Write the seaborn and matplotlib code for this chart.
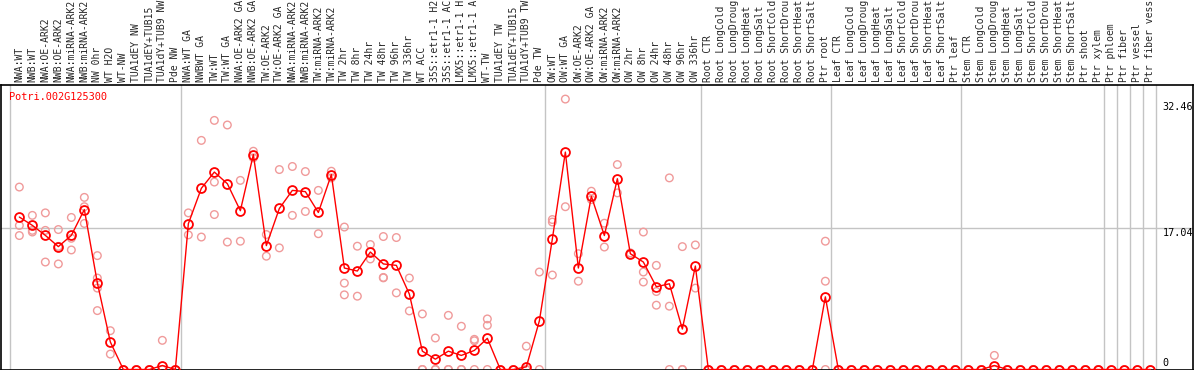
import numpy as np
import pandas as pd
import matplotlib
matplotlib.use("Agg")
import matplotlib.pyplot as plt
import seaborn as sns

gene_name = "Potri.002G125300"

# category labels as visible in the chart header
categories = [
    "NWA:WT", "NWB:WT", "NWA:OE-ARK2", "NWB:OE-ARK2", "NWA:miRNA-ARK2", "NWB:miRNA-ARK2",
    "NW 0hr", "WT H2O", "WT-NW", "TUA1dEY NW", "TUA1dEY+TUB15", "TUA1dY+TUB9 NW", "Pde NW",
    "NWA:WT GA", "NWBWT GA", "TW:WT", "TW:WT GA", "NWA:OE-ARK2 GA", "NWB:OE-ARK2 GA",
    "TW:OE-ARK2", "TW:OE-ARK2 GA", "NWA:miRNA-ARK2", "NWB:miRNA-ARK2", "TW:miRNA-ARK2",
    "TW:miRNA-ARK2", "TW 2hr", "TW 8hr", "TW 24hr", "TW 48hr", "TW 96hr", "TW 336hr",
    "WT ACC", "35S::etr1-1 H2", "35S::etr1-1 AC", "LMX5::etr1-1 H", "LMX5::etr1-1 A",
    "WT-TW", "TUA1dEY TW", "TUA1dEY+TUB15", "TUA1dY+TUB9 TW", "Pde TW",
    "OW:WT", "OW:WT GA", "OW:OE-ARK2", "OW:OE-ARK2 GA", "OW:miRNA-ARK2", "OW:miRNA-ARK2",
    "OW 2hr", "OW 8hr", "OW 24hr", "OW 48hr", "OW 96hr", "OW 336hr",
    "Root CTR", "Root LongCold", "Root LongDroug", "Root LongHeat", "Root LongSalt",
    "Root ShortCold", "Root ShortDrou", "Root ShortHeat", "Root ShortSalt", "Ptr root",
    "Leaf CTR", "Leaf LongCold", "Leaf LongDroug", "Leaf LongHeat", "Leaf LongSalt",
    "Leaf ShortCold", "Leaf ShortDrou", "Leaf ShortHeat", "Leaf ShortSalt", "Ptr leaf",
    "Stem CTR", "Stem LongCold", "Stem LongDroug", "Stem LongHeat", "Stem LongSalt",
    "Stem ShortCold", "Stem ShortDrou", "Stem ShortHeat", "Stem ShortSalt", "Ptr shoot",
    "Ptr xylem", "Ptr phloem", "Ptr fiber", "Ptr vessel", "Ptr fiber vess",
]

mean_values = [
    18.3, 17.3, 16.1, 14.75, 16.1, 19.2, 10.4, 3.3, 0, 0, 0, 0.48, 0,
    17.5, 21.75, 23.7, 22.3, 19.06, 25.8, 14.87, 19.33, 21.5, 21.35, 18.85, 23.4,
    12.18, 11.82, 14.1, 12.67, 12.5, 9.05, 2.2, 1.24, 2.2, 1.69, 2.29, 3.74, 0, 0, 0.32, 5.83,
    15.68, 26.1, 12.18, 20.8, 16.08, 22.9, 13.9, 12.9, 9.93, 10.29, 4.86, 12.42,
    0, 0, 0, 0, 0, 0, 0, 0, 0, 8.72,
    0, 0, 0, 0, 0, 0, 0, 0, 0, 0,
    0, 0, 0.48, 0, 0, 0, 0, 0, 0, 0,
    0, 0, 0, 0, 0,
]

replicate_values = [
    [21.9, 17.29, 16.08], [18.5, 16.7, 16.5], [18.8, 16.7, 12.9], [16.8, 12.67, 14.78],
    [18.25, 15.75, 14.35], [20.66, 19.54, 17.53], [13.67, 10.98, 9.77, 7.07], [4.66, 1.85],
    [0, 0], [0, 0], [0, 0], [3.5, 0, 0], [0, 0],
    [18.8, 16.16], [27.5, 15.9], [29.9, 22.5, 18.6], [29.35, 15.3], [22.7, 15.4],
    [26.2, 25.4], [16.2, 13.6], [24.0, 14.6], [24.37, 18.5], [23.76, 18.97], [21.5, 16.3],
    [23.8, 23.0], [17.1, 10.37, 8.96], [14.8, 8.8], [15.0, 13.27], [15.96, 11.05, 11.0],
    [15.84, 9.2], [10.98, 7.03], [6.67, 0, 0], [3.78, 0, 0], [6.5, 0, 0], [5.19, 0, 0],
    [3.62, 3.45, 0], [6.07, 5.3, 0], [0, 0], [0, 0], [2.8, 0, 0], [11.7, 0],
    [18.0, 17.7, 11.34], [32.46, 19.54], [13.9, 10.6], [21.4, 20.4], [17.56, 14.7],
    [24.6, 21.2], [14.0, 13.8], [16.5, 11.7, 10.5], [12.5, 9.36, 7.72], [23.0, 7.6, 0],
    [14.75, 0, 0], [14.95, 9.77],
    [0, 0, 0], [0, 0, 0], [0, 0, 0], [0, 0, 0], [0, 0, 0], [0, 0, 0], [0, 0, 0], [0, 0, 0],
    [0, 0, 0], [15.4, 10.6, 0],
    [0, 0, 0], [0, 0, 0], [0, 0, 0], [0, 0, 0], [0, 0, 0], [0, 0, 0], [0, 0, 0], [0, 0, 0],
    [0, 0, 0], [0, 0, 0],
    [0, 0, 0], [0, 0, 0], [1.69, 0, 0], [0, 0, 0], [0, 0, 0], [0, 0, 0], [0, 0, 0], [0, 0, 0],
    [0, 0, 0], [0, 0, 0],
    [0, 0, 0], [0], [0], [0], [0],
]

group_last_index = [12, 40, 52, 62, 72, 83, 84, 85, 86, 87]
y_tick_labels = ["0", "17.04", "32.46"]

# ---- build tables ----
n = len(categories)
df_mean = pd.DataFrame({"pos": np.arange(n), "value": mean_values})
rows = []
for i, reps in enumerate(replicate_values):
    for v in reps:
        rows.append((i, v))
df_rep = pd.DataFrame(rows, columns=["pos", "value"])

sns.set_style("white")
plt.rcParams["font.family"] = ["DejaVu Sans Mono"]

W, H = 1194, 370
fig = plt.figure(figsize=(W / 100, H / 100), dpi=100)
ax_top_px = 85
ax_bottom_px = 369.5
ax = fig.add_axes([0.5 / W, (H - ax_bottom_px) / H, 1192.5 / W, (ax_bottom_px - ax_top_px) / H])

RED = "#ff0000"
PINK = "#f09a9a"
GRID = "#c4c4c4"

# gridlines
ax.axhline(17.04, color=GRID, lw=1.0, zorder=0)
ax.axvline(-0.7, color=GRID, lw=1.0, zorder=0)
for g in group_last_index:
    ax.axvline(g + 0.4, color=GRID, lw=1.0, zorder=0)

sns.scatterplot(data=df_rep, x="pos", y="value", ax=ax, marker="o", s=30,
                facecolor="none", edgecolor=PINK, linewidth=1.0, zorder=2,
                clip_on=False, legend=False)
sns.lineplot(data=df_mean, x="pos", y="value", ax=ax, color=RED, lw=1.0,
             marker="o", markersize=6.4, markerfacecolor="none",
             markeredgecolor=RED, markeredgewidth=1.3, zorder=3,
             clip_on=False, legend=False, errorbar=None, sort=False)

ax.set_xlim(-1.45, 90.28)
ax.set_ylim(0, 34.15)
ax.set_xlabel("")
ax.set_ylabel("")

ax.set_xticks(np.arange(n))
ax.set_xticklabels(categories, rotation=90, fontsize=7.0)
ax.tick_params(axis="x", top=True, bottom=False, labeltop=True, labelbottom=False,
               length=0, pad=1.8)
ax.set_yticks([])

for sp in ax.spines.values():
    sp.set_color("black")
    sp.set_linewidth(1.2)
    sp.set_visible(True)

# y value labels inside the right edge
label_y = [0.48, 15.97, 31.09]
for val, txt in zip(label_y, y_tick_labels):
    ax.text(87.95, val, txt, fontsize=7.3, color="black", ha="left", va="baseline")

ax.text(-0.77, 32.29, gene_name, fontsize=7.4, color=RED, ha="left", va="baseline")

fig.savefig("out.png", dpi=100)
